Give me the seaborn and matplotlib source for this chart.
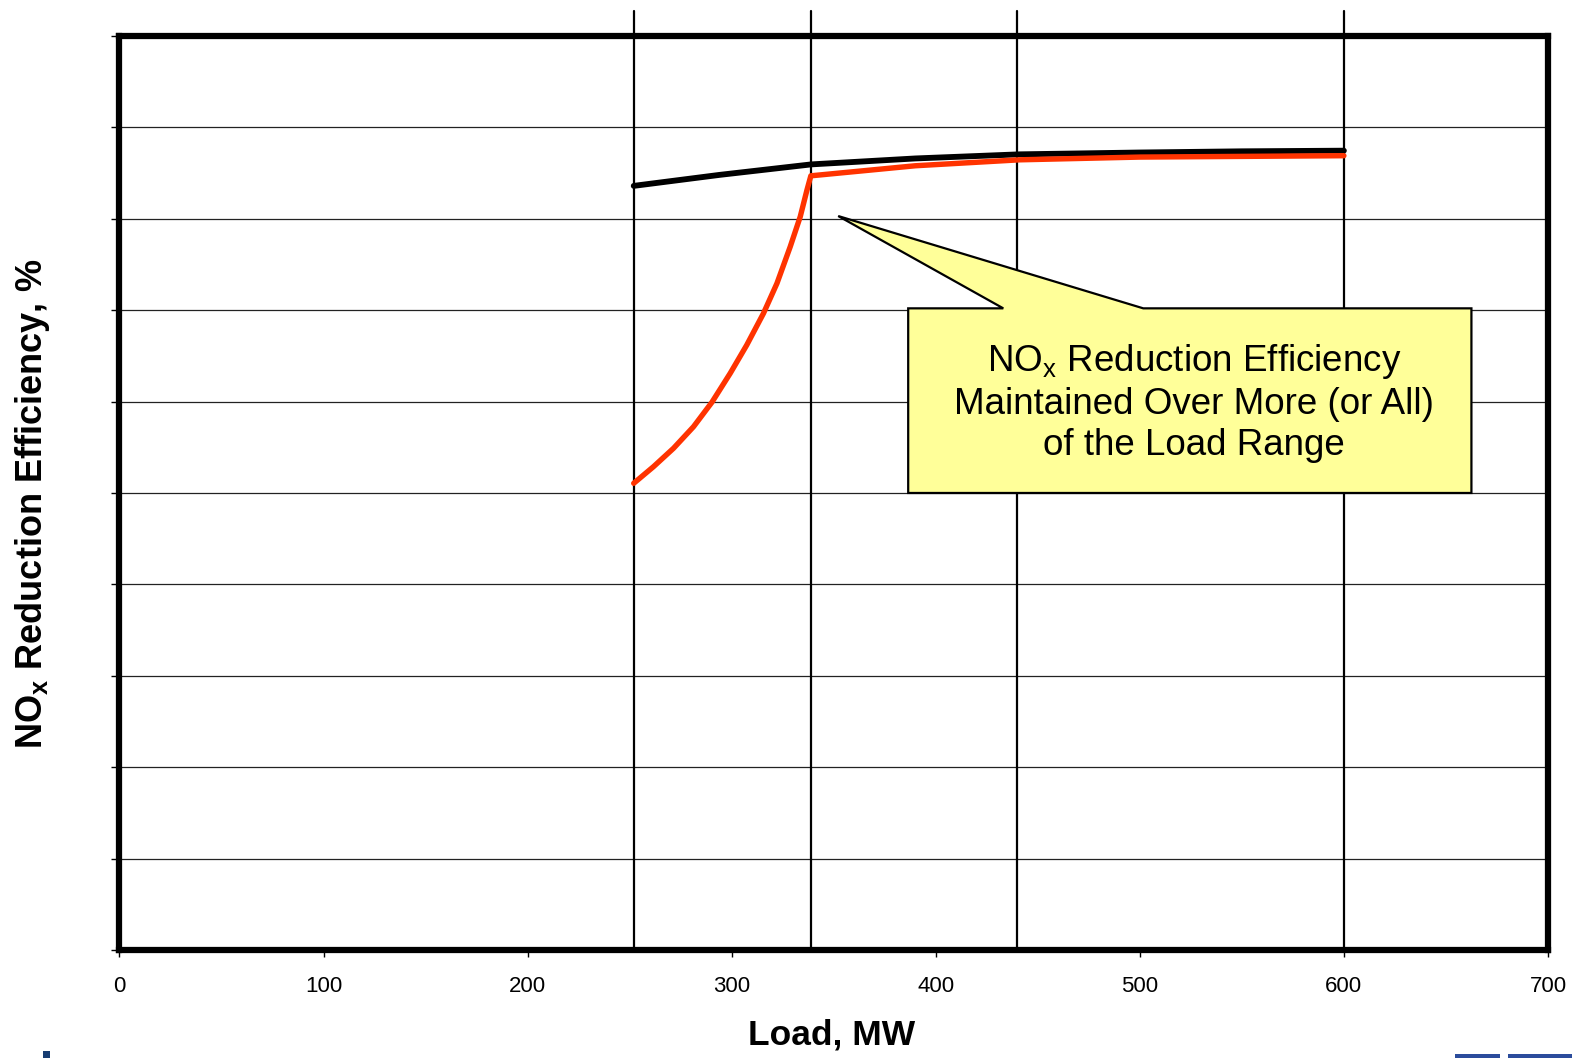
import numpy as np
import pandas as pd
import seaborn as sns
import matplotlib
matplotlib.use("Agg")
import matplotlib.pyplot as plt
from matplotlib.patches import Polygon, Rectangle

# ---- data ----
baseline_load = [252, 294, 339, 390, 441, 500, 550, 600]
baseline_eff = [83.6, 84.8, 85.95, 86.6, 87.05, 87.25, 87.38, 87.45]

extended_load = [252, 261.7, 271.5, 281.3, 290.3, 299.3, 307.4, 315.6, 322.2, 328.7,
                 333.6, 336.9, 338.8, 390, 441, 500, 600]
extended_eff = [51.06, 52.88, 54.89, 57.25, 59.92, 63.1, 66.19, 69.66, 72.94, 76.95,
                80.23, 83.15, 84.7, 85.8, 86.45, 86.75, 86.9]

marker_loads = [252, 339, 440, 600]
x_ticks = [0, 100, 200, 300, 400, 500, 600, 700]
y_ticks = [0, 10, 20, 30, 40, 50, 60, 70, 80, 90, 100]

callout_text = "NO$_\\mathrm{x}$ Reduction Efficiency\nMaintained Over More (or All)\nof the Load Range"

# ---- style ----
sns.set_theme(style="white")
plt.rcParams['font.family'] = ['Liberation Sans', 'DejaVu Sans']
plt.rcParams['mathtext.fontset'] = 'custom'
plt.rcParams['mathtext.rm'] = 'Liberation Sans'
plt.rcParams['mathtext.bf'] = 'Liberation Sans:bold'
plt.rcParams['text.color'] = 'black'
plt.rcParams['axes.labelcolor'] = 'black'

fig = plt.figure(figsize=(15.72, 10.58), dpi=100)
ax = fig.add_axes([0.076, 0.1021, 0.9087, 0.8639])

df_base = pd.DataFrame({"load": baseline_load, "eff": baseline_eff})
df_ext = pd.DataFrame({"load": extended_load, "eff": extended_eff})

ax.set_xlim(0, 700)
ax.set_ylim(0, 100)

# grid lines
for yv in y_ticks[1:-1]:
    ax.axhline(yv, color="#222222", lw=0.9, zorder=1)

# vertical marker lines extending above plot
for xv in marker_loads:
    ax.plot([xv, xv], [0, 102.7], color="black", lw=1.6, clip_on=False, zorder=2)

sns.lineplot(data=df_base, x="load", y="eff", ax=ax, color="black", lw=4.2,
             sort=False, estimator=None, zorder=4)
sns.lineplot(data=df_ext, x="load", y="eff", ax=ax, color="#FF3300", lw=3.9,
             sort=False, estimator=None, zorder=5)
for ln in ax.lines:
    ln.set_solid_joinstyle("round")

# callout
callout = [(386.5, 70.2), (433.1, 70.2), (352.2, 80.3), (501.7, 70.2),
           (662.5, 70.2), (662.5, 50.0), (386.5, 50.0)]
ax.add_patch(Polygon(callout, closed=True, facecolor="#FFFF99", edgecolor="black",
                     lw=1.6, zorder=6))
ax.text(526.5, 59.9, callout_text, ha="center", va="center", fontsize=26.5,
        linespacing=1.24, zorder=7, color="black")

# axes styling
ax.set_xticks(x_ticks)
ax.set_yticks(y_ticks)
ax.set_yticklabels([])
ax.tick_params(axis="x", bottom=True, direction="out", length=5, width=1,
               labelsize=16, pad=14, colors="black")
ax.tick_params(axis="y", left=True, direction="out", length=6, width=1, colors="black")
for s in ax.spines.values():
    s.set_linewidth(4.5)
    s.set_color("black")
    s.set_zorder(8)

ax.set_xlabel("Load, MW", fontsize=25.5, fontweight="bold", color="black")
ax.set_ylabel("NO$_\\mathbf{x}$ Reduction Efficiency, %", fontsize=26, fontweight="bold",
              color="black")
ax.xaxis.label.set_va("center")
ax.yaxis.label.set_va("center")
ax.xaxis.set_label_coords(0.4988, -0.093)
ax.yaxis.set_label_coords(-0.0606, 0.4885)

# partial logo fragments at bottom edge
fig.patches.append(Rectangle((43 / 1572, 0), 7 / 1572, 7 / 1058, transform=fig.transFigure,
                             facecolor="#173d72", edgecolor="none"))
fig.patches.append(Rectangle((1455 / 1572, 0), 45 / 1572, 4 / 1058, transform=fig.transFigure,
                             facecolor="#2b4c9c", edgecolor="none"))
fig.patches.append(Rectangle((1508 / 1572, 0), 64 / 1572, 4 / 1058, transform=fig.transFigure,
                             facecolor="#2b4c9c", edgecolor="none"))

fig.savefig("out.png", dpi=100, facecolor="white")
